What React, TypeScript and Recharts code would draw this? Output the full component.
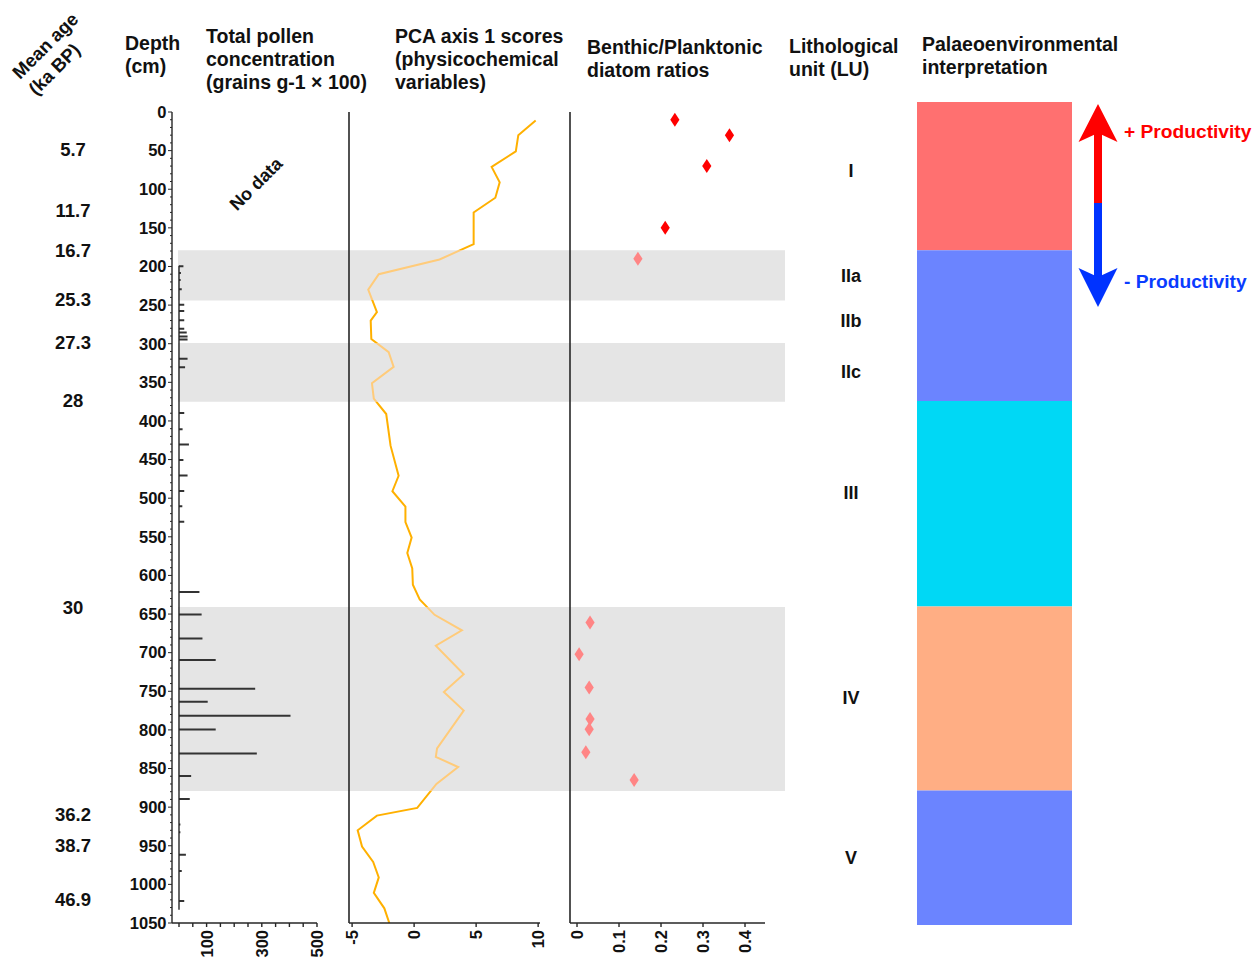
import {
  Bar,
  Cell,
  ComposedChart,
  Line,
  ReferenceArea,
  ReferenceLine,
  Scatter,
  XAxis,
  YAxis,
} from "recharts";

const FONT = '"Liberation Sans", Arial, Helvetica, sans-serif';
const INK = "#262626";

// every panel shares one depth scale: 0 cm at y=112, 1050 cm at y=923
const PAGE_W = 1252;
const PAGE_H = 958;
const PLOT_TOP = 112;
const AXIS_H = 35;
const DEPTH_DOMAIN: [number, number] = [0, 1050];

const MAJOR_DEPTHS = [
  0, 50, 100, 150, 200, 250, 300, 350, 400, 450, 500, 550, 600, 650, 700, 750, 800, 850, 900, 950,
  1000, 1050,
];
const DEPTH_TICKS = Array.from({ length: 106 }, (_, i) => i * 10);

// mean age (ka BP) and the depth it sits at
const AGE_DEPTHS = [49, 127, 179, 243, 299, 373, 641, 910, 950, 1020];
const AGE_LABELS = ["5.7", "11.7", "16.7", "25.3", "27.3", "28", "30", "36.2", "38.7", "46.9"];

// total pollen concentration (grains g-1 × 100)
const POLLEN_DEPTHS = [
  199, 208, 217, 229, 249, 257, 269, 280, 285, 290, 294, 319, 330, 389, 410, 430, 450, 470, 490,
  510, 530, 621, 650, 681, 709, 746, 763, 781, 799, 830, 859, 889, 922, 932, 961, 982, 1021,
];
const POLLEN_VALUES = [
  16, 7, 6, 10, 19, 19, 19, 19, 28, 31, 31, 31, 22, 19, 13, 36, 16, 31, 19, 12, 19, 74, 82, 85, 133,
  276, 104, 404, 133, 282, 44, 39, 5, 5, 25, 10, 19,
];
const POLLEN_TICKS = [0, 50, 100, 150, 200, 250, 300, 350, 400, 450, 500];
const POLLEN_LABELS = [100, 300, 500];

// PCA axis 1 scores
const PCA_DEPTHS = [
  11, 30, 51, 71, 91, 111, 130, 171, 191, 210, 230, 259, 270, 294, 311, 330, 351, 371, 391, 432,
  471, 491, 511, 531, 551, 571, 591, 612, 631, 651, 671, 691, 728, 751, 775, 824, 835, 848, 870,
  901, 911, 930, 951, 971, 991, 1011, 1031, 1050,
];
const PCA_SCORES = [
  9.8, 8.4, 8.2, 6.25, 6.9, 6.55, 4.8, 4.8, 2.05, -2.85, -3.7, -3.0, -3.5, -3.45, -2.05, -1.65,
  -3.4, -3.25, -2.25, -1.9, -1.25, -1.75, -0.7, -0.7, -0.2, -0.55, -0.15, -0.1, 0.45, 1.65, 3.85,
  1.75, 4.0, 2.4, 4.0, 1.85, 1.75, 3.55, 1.8, 0.25, -3.0, -4.55, -4.2, -3.3, -2.85, -3.25, -2.4,
  -2.0,
];
const PCA_TICKS = [-5, 0, 5, 10];

// benthic / planktonic diatom ratios
const DIATOM_DEPTHS = [10, 30, 70, 150, 190, 661, 702, 745, 786, 799, 829, 865];
const DIATOM_RATIOS = [0.233, 0.363, 0.309, 0.21, 0.145, 0.031, 0.005, 0.029, 0.031, 0.029, 0.021, 0.136];
const DIATOM_TICKS = [0, 0.1, 0.2, 0.3, 0.4];

// shaded depth intervals (cm)
const GREY_BANDS: [number, number][] = [
  [179, 244],
  [299, 375],
  [641, 879],
];

// lithological units
const LU_DEPTHS = [75, 211, 270, 336, 492, 757, 965];
const LU_NAMES = ["I", "IIa", "IIb", "IIc", "III", "IV", "V"];

// palaeoenvironmental interpretation column
const ZONE_BOUNDS = [-13, 179, 374, 640, 878, 1052];
const ZONE_COLORS = ["#ff7070", "#6b84ff", "#00d8f5", "#ffae84", "#6b84ff"];

const ORANGE = "#ffb000";
const ORANGE_PALE = "#ffcb7a";
const RED = "#ff0000";
const RED_PALE = "#ff8585";

const inBand = (d: number) => GREY_BANDS.some(([a, b]) => d >= a && d <= b);

const pollenData = POLLEN_DEPTHS.map((depth, i) => ({ depth, value: POLLEN_VALUES[i] }));
const pcaData = PCA_DEPTHS.map((depth, i) => ({ depth, score: PCA_SCORES[i] }));
const diatomData = DIATOM_DEPTHS.map((depth, i) => ({ depth, ratio: DIATOM_RATIOS[i] }));
const ageData = AGE_DEPTHS.map((depth, i) => ({ depth, age: AGE_LABELS[i] }));
const bandData = GREY_BANDS.map(([from, to]) => ({ from, to }));
const zoneData = ZONE_COLORS.map((color, i) => ({ from: ZONE_BOUNDS[i], to: ZONE_BOUNDS[i + 1], color }));

// the PCA curve is paler inside the shaded intervals
const pcaFirst = PCA_DEPTHS[0];
const pcaLast = PCA_DEPTHS[PCA_DEPTHS.length - 1];
const pcaStops: { offset: number; color: string }[] = [];
GREY_BANDS.forEach(([a, b]) => {
  const fa = (a - pcaFirst) / (pcaLast - pcaFirst);
  const fb = (b - pcaFirst) / (pcaLast - pcaFirst);
  pcaStops.push({ offset: fa, color: ORANGE }, { offset: fa, color: ORANGE_PALE });
  pcaStops.push({ offset: fb, color: ORANGE_PALE }, { offset: fb, color: ORANGE });
});

const labelStyle = { fontFamily: FONT, fontWeight: "bold" as const, fill: "#111" };

function DepthTick({ x, y, payload }: any) {
  const v = payload.value;
  const major = v % 50 === 0;
  return (
    <g>
      <line x1={x - (major ? 4 : 2)} x2={x} y1={y} y2={y} stroke={INK} strokeWidth={1} />
      {major && (
        <text x={x - 5.5} y={y} dy={5.8} textAnchor="end" fontSize={16.5} {...labelStyle}>
          {v}
        </text>
      )}
    </g>
  );
}

function AgeTick({ y, payload }: any) {
  const i = AGE_DEPTHS.indexOf(payload.value);
  return (
    <text x={73} y={y} dy={6.5} textAnchor="middle" fontSize={18.5} {...labelStyle}>
      {AGE_LABELS[i]}
    </text>
  );
}

function LuTick({ y, payload }: any) {
  const i = LU_DEPTHS.indexOf(payload.value);
  return (
    <text x={61} y={y} dy={6.5} textAnchor="middle" fontSize={18} {...labelStyle}>
      {LU_NAMES[i]}
    </text>
  );
}

const rotatedTick =
  (shown: number[]) =>
  ({ x, y, payload }: any) =>
    shown.includes(payload.value) ? (
      <text
        transform={`translate(${x + 6},${y}) rotate(-90)`}
        textAnchor="end"
        fontSize={16.5}
        {...labelStyle}
      >
        {payload.value}
      </text>
    ) : (
      <g />
    );

function Diamond({ cx, cy, fill }: any) {
  return <path d={`M${cx},${cy - 7} L${cx + 4.6},${cy} L${cx},${cy + 7} L${cx - 4.6},${cy} Z`} fill={fill} />;
}

function Headers() {
  const t = { fontSize: 19.5, ...labelStyle };
  return (
    <svg width={PAGE_W} height={PAGE_H} style={{ position: "absolute", left: 0, top: 0 }}>
      <g transform="rotate(-45 20 80)" {...t} fontSize={18.5}>
        <text x={20} y={80}>Mean age</text>
        <text x={20} y={103}>(ka BP)</text>
      </g>
      <g {...t}>
        <text x={125} y={50}>Depth</text>
        <text x={125} y={73}>(cm)</text>
        <text x={206} y={43}>Total pollen</text>
        <text x={206} y={66}>concentration</text>
        <text x={206} y={89}>(grains g-1 × 100)</text>
        <text x={395} y={43}>PCA axis 1 scores</text>
        <text x={395} y={66}>(physicochemical</text>
        <text x={395} y={89}>variables)</text>
        <text x={587} y={54}>Benthic/Planktonic</text>
        <text x={587} y={77}>diatom ratios</text>
        <text x={789} y={53}>Lithological</text>
        <text x={789} y={76}>unit (LU)</text>
        <text x={922} y={51}>Palaeoenvironmental</text>
        <text x={922} y={74}>interpretation</text>
      </g>
      <text transform="rotate(-45 256 184)" x={256} y={190} textAnchor="middle" fontSize={18} {...labelStyle}>
        No data
      </text>
      {/* productivity arrow */}
      <rect x={1094} y={130} width={8} height={74} fill="#ff0000" />
      <rect x={1094} y={203} width={8} height={76} fill="#0033ff" />
      <path d="M1098,104 L1117.5,142 L1098,133 L1078.5,142 Z" fill="#ff0000" />
      <path d="M1098,307 L1117.5,268 L1098,277 L1078.5,268 Z" fill="#0033ff" />
      <text x={1124} y={138} fontSize={19.2} fontFamily={FONT} fontWeight="bold" fill="#ff0000">
        + Productivity
      </text>
      <text x={1124} y={288} fontSize={19.2} fontFamily={FONT} fontWeight="bold" fill="#0a3cff">
        - Productivity
      </text>
    </svg>
  );
}

export default function App() {
  return (
    <div
      style={{
        position: "absolute",
        left: 0,
        top: 0,
        width: PAGE_W,
        height: PAGE_H,
        background: "#fff",
        overflow: "hidden",
        fontFamily: FONT,
      }}
    >
      {/* shaded intervals behind the three data panels */}
      <div style={{ position: "absolute", left: 178, top: 0 }}>
        <ComposedChart
          width={607}
          height={PAGE_H}
          data={bandData}
          margin={{ top: PLOT_TOP, right: 0, bottom: AXIS_H, left: 0 }}
        >
          <XAxis hide dataKey="from" />
          <YAxis hide type="number" domain={DEPTH_DOMAIN} reversed allowDataOverflow />
          {GREY_BANDS.map(([a, b]) => (
            <ReferenceArea key={a} y1={a} y2={b} fill="#e5e5e5" fillOpacity={1} stroke="none" />
          ))}
        </ComposedChart>
      </div>

      <Headers />

      {/* mean age column */}
      <div style={{ position: "absolute", left: 0, top: 0 }}>
        <ComposedChart
          width={125}
          height={PAGE_H}
          data={ageData}
          margin={{ top: PLOT_TOP, right: 0, bottom: AXIS_H, left: 0 }}
        >
          <XAxis hide dataKey="age" />
          <YAxis
            type="number"
            domain={DEPTH_DOMAIN}
            reversed
            allowDataOverflow
            ticks={AGE_DEPTHS}
            interval={0}
            width={115}
            axisLine={false}
            tickLine={false}
            tick={<AgeTick />}
          />
        </ComposedChart>
      </div>

      {/* depth axis and pollen */}
      <div style={{ position: "absolute", left: 0, top: 0 }}>
        <ComposedChart
          layout="vertical"
          width={330}
          height={PAGE_H}
          data={pollenData}
          margin={{ top: PLOT_TOP, right: 13, bottom: 0, left: 0 }}
        >
          <XAxis
            type="number"
            dataKey="value"
            domain={[0, 500]}
            ticks={POLLEN_TICKS}
            interval={0}
            padding={{ left: 7, right: 0 }}
            height={AXIS_H}
            tickSize={4}
            tickMargin={3}
            stroke={INK}
            strokeWidth={1.4}
            tick={rotatedTick(POLLEN_LABELS)}
          />
          <YAxis
            type="number"
            dataKey="depth"
            domain={DEPTH_DOMAIN}
            allowDataOverflow
            ticks={DEPTH_TICKS}
            interval={0}
            width={172}
            tickSize={0}
            tickMargin={0}
            tickLine={false}
            stroke={INK}
            strokeWidth={1.4}
            tick={<DepthTick />}
          />
          <ReferenceLine
            segment={[
              { x: 0, y: 199 },
              { x: 0, y: 1033 },
            ]}
            stroke={INK}
            strokeWidth={1.4}
          />
          <Bar dataKey="value" barSize={2} fill="#333" isAnimationActive={false} />
        </ComposedChart>
      </div>

      {/* PCA axis 1 */}
      <div style={{ position: "absolute", left: 300, top: 0 }}>
        <ComposedChart
          layout="vertical"
          width={250}
          height={PAGE_H}
          data={pcaData}
          margin={{ top: PLOT_TOP, right: 10, bottom: 0, left: 0 }}
        >
          <defs>
            <linearGradient id="pcaStroke" x1="0" y1="0" x2="0" y2="1">
              <stop offset={0} stopColor={ORANGE} />
              {pcaStops.map((s, i) => (
                <stop key={i} offset={s.offset} stopColor={s.color} />
              ))}
              <stop offset={1} stopColor={ORANGE} />
            </linearGradient>
          </defs>
          <XAxis
            type="number"
            dataKey="score"
            domain={[-5.25, 10.15]}
            allowDataOverflow
            ticks={PCA_TICKS}
            interval={0}
            height={AXIS_H}
            tickSize={4}
            tickMargin={3}
            stroke={INK}
            strokeWidth={1.4}
            tick={rotatedTick(PCA_TICKS)}
          />
          <YAxis
            type="number"
            dataKey="depth"
            domain={DEPTH_DOMAIN}
            allowDataOverflow
            ticks={MAJOR_DEPTHS}
            interval={0}
            width={49}
            tick={false}
            tickSize={4}
            stroke={INK}
            strokeWidth={1.6}
          />
          <Line
            dataKey="score"
            stroke="url(#pcaStroke)"
            strokeWidth={2}
            dot={false}
            isAnimationActive={false}
          />
        </ComposedChart>
      </div>

      {/* benthic/planktonic diatoms */}
      <div style={{ position: "absolute", left: 540, top: 0 }}>
        <ComposedChart
          layout="vertical"
          width={240}
          height={PAGE_H}
          data={diatomData}
          margin={{ top: PLOT_TOP, right: 15, bottom: 0, left: 0 }}
        >
          <XAxis
            type="number"
            dataKey="ratio"
            domain={[-0.0167, 0.4476]}
            allowDataOverflow
            ticks={DIATOM_TICKS}
            interval={0}
            height={AXIS_H}
            tickSize={4}
            tickMargin={3}
            stroke={INK}
            strokeWidth={1.4}
            tick={rotatedTick(DIATOM_TICKS)}
          />
          <YAxis
            type="number"
            dataKey="depth"
            domain={DEPTH_DOMAIN}
            allowDataOverflow
            ticks={MAJOR_DEPTHS}
            interval={0}
            width={30}
            tick={false}
            tickSize={4}
            stroke={INK}
            strokeWidth={1.6}
          />
          <Scatter data={diatomData} shape={<Diamond />} isAnimationActive={false}>
            {diatomData.map((d) => (
              <Cell key={d.depth} fill={inBand(d.depth) ? RED_PALE : RED} />
            ))}
          </Scatter>
        </ComposedChart>
      </div>

      {/* lithological units and interpretation column */}
      <div style={{ position: "absolute", left: 790, top: 0 }}>
        <ComposedChart
          width={282}
          height={PAGE_H}
          data={zoneData}
          margin={{ top: 102, right: 0, bottom: 33, left: 0 }}
        >
          <XAxis hide dataKey="color" />
          <YAxis
            type="number"
            domain={[ZONE_BOUNDS[0], ZONE_BOUNDS[ZONE_BOUNDS.length - 1]]}
            reversed
            allowDataOverflow
            ticks={LU_DEPTHS}
            interval={0}
            width={127}
            axisLine={false}
            tickLine={false}
            tick={<LuTick />}
          />
          {zoneData.map((z) => (
            <ReferenceArea key={z.from} y1={z.from} y2={z.to} fill={z.color} fillOpacity={1} stroke="none" />
          ))}
        </ComposedChart>
      </div>
    </div>
  );
}
